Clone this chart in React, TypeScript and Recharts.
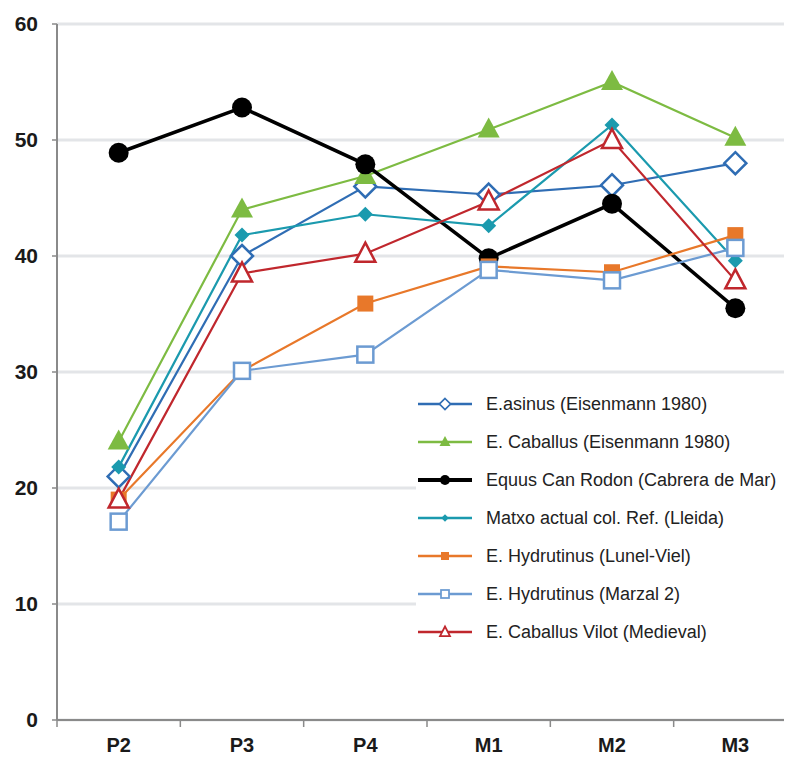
import React from 'react';
import { LineChart, Line, XAxis, YAxis, CartesianGrid } from 'recharts';

const categories = ['P2', 'P3', 'P4', 'M1', 'M2', 'M3'];
const yTicks = [0, 10, 20, 30, 40, 50, 60];

const asinus = [21, 40, 46, 45.3, 46.1, 48];
const caballus = [24, 44, 46.9, 50.9, 55, 50.2];
const canRodon = [48.9, 52.8, 47.9, 39.8, 44.5, 35.5];
const matxo = [21.8, 41.8, 43.6, 42.6, 51.3, 39.6];
const lunelViel = [19, 30.1, 35.9, 39.1, 38.6, 41.8];
const marzal = [17.1, 30.1, 31.5, 38.8, 37.9, 40.7];
const vilot = [19, 38.5, 40.2, 44.7, 50, 37.9];

type Shape = 'diamondOpen' | 'triangle' | 'circle' | 'diamond' | 'square' | 'squareOpen' | 'triangleOpen';

interface SeriesDef {
  key: string;
  name: string;
  values: number[];
  color: string;
  width: number;
  shape: Shape;
}

const series: SeriesDef[] = [
  { key: 'asinus', name: 'E.asinus (Eisenmann 1980)', values: asinus, color: '#2f6db4', width: 2.2, shape: 'diamondOpen' },
  { key: 'caballus', name: 'E. Caballus (Eisenmann 1980)', values: caballus, color: '#7dbb42', width: 2.2, shape: 'triangle' },
  { key: 'canRodon', name: 'Equus Can Rodon (Cabrera de Mar)', values: canRodon, color: '#000000', width: 3.5, shape: 'circle' },
  { key: 'matxo', name: 'Matxo actual col. Ref. (Lleida)', values: matxo, color: '#1b9aae', width: 2.2, shape: 'diamond' },
  { key: 'lunel', name: 'E. Hydrutinus (Lunel-Viel)', values: lunelViel, color: '#e8782a', width: 2.2, shape: 'square' },
  { key: 'marzal', name: 'E. Hydrutinus (Marzal 2)', values: marzal, color: '#6c9bd2', width: 2.2, shape: 'squareOpen' },
  { key: 'vilot', name: 'E. Caballus Vilot (Medieval)', values: vilot, color: '#c0272d', width: 2.2, shape: 'triangleOpen' },
];

const data = categories.map((c, i) => {
  const row: Record<string, number | string> = { cat: c };
  series.forEach((s) => { row[s.key] = s.values[i]; });
  return row;
});

const Marker = ({ shape, cx, cy, color, scale = 1 }: { shape: Shape; cx: number; cy: number; color: string; scale?: number }) => {
  const s = scale;
  const sw = 2.5 * Math.max(s, 0.7);
  switch (shape) {
    case 'diamondOpen': {
      const h = 11 * s;
      return <polygon points={`${cx},${cy - h} ${cx + h},${cy} ${cx},${cy + h} ${cx - h},${cy}`} fill="#fff" stroke={color} strokeWidth={sw} />;
    }
    case 'triangle': {
      const w = 11 * s;
      return <polygon points={`${cx},${cy - 12 * s} ${cx + w},${cy + 8 * s} ${cx - w},${cy + 8 * s}`} fill={color} />;
    }
    case 'circle':
      return <circle cx={cx} cy={cy} r={10 * s} fill={color} />;
    case 'diamond': {
      const h = 7.5 * s;
      return <polygon points={`${cx},${cy - h} ${cx + h},${cy} ${cx},${cy + h} ${cx - h},${cy}`} fill={color} />;
    }
    case 'square': {
      const h = 8 * s;
      return <rect x={cx - h} y={cy - h} width={2 * h} height={2 * h} fill={color} />;
    }
    case 'squareOpen': {
      const h = 8 * s;
      return <rect x={cx - h} y={cy - h} width={2 * h} height={2 * h} fill="#fff" stroke={color} strokeWidth={sw} />;
    }
    case 'triangleOpen': {
      const w = 10 * s;
      return <polygon points={`${cx},${cy - 11 * s} ${cx + w},${cy + 8 * s} ${cx - w},${cy + 8 * s}`} fill="#fff" stroke={color} strokeWidth={sw} />;
    }
  }
  return null;
};

const LegendBox = () => (
  <div style={{ position: 'absolute', left: 416, top: 385, width: 376, background: '#fff' }}>
    {series.map((s) => (
      <div key={s.key} style={{ display: 'flex', alignItems: 'center', height: 38 }}>
        <svg width={58} height={22} style={{ flex: 'none' }}>
          <line x1={2} y1={11} x2={56} y2={11} stroke={s.color} strokeWidth={s.width + 0.5} />
          <Marker shape={s.shape} cx={29} cy={11} color={s.color} scale={0.5} />
        </svg>
        <span style={{ marginLeft: 12, fontSize: 18, color: '#222', fontFamily: '"Liberation Sans", Arial, sans-serif', whiteSpace: 'nowrap' }}>
          {s.name}
        </span>
      </div>
    ))}
  </div>
);

const tickFont = { fontFamily: '"Liberation Sans Narrow", "Liberation Sans", Arial, sans-serif', fontWeight: 700, fill: '#1a1a1a' };

// category label plus a small tick mark at the band boundaries
const CatTick = (props: any) => {
  const { x, y, payload, index } = props;
  const off = payload && typeof payload.offset === 'number' ? payload.offset : 0;
  const axisY = y - 18;
  const last = index === categories.length - 1;
  return (
    <g>
      {off > 0 && <line x1={x - off} y1={axisY} x2={x - off} y2={axisY + 7} stroke="#8a8a8a" strokeWidth={1.5} />}
      {off > 0 && last && <line x1={x + off} y1={axisY} x2={x + off} y2={axisY + 7} stroke="#8a8a8a" strokeWidth={1.5} />}
      <text x={x} y={y} dy="0.71em" textAnchor="middle" fontSize={20} {...tickFont}>
        {payload.value}
      </text>
    </g>
  );
};

export default function App() {
  return (
    <div style={{ position: 'relative', margin: '-8px 0 0 -8px', width: 792, height: 767, background: '#fff' }}>
      <LineChart width={792} height={767} data={data} margin={{ top: 24, right: -5, left: 0, bottom: 0 }}>
        <CartesianGrid horizontal vertical={false} stroke="#e3e5e8" strokeWidth={3} />
        <XAxis
          dataKey="cat"
          scale="band"
          height={47}
          tickLine={false}
          tickSize={0}
          tickMargin={18}
          axisLine={{ stroke: '#8a8a8a', strokeWidth: 2 }}
          tick={CatTick}
          interval={0}
        />
        <YAxis
          width={57}
          domain={[0, 60]}
          ticks={yTicks}
          tickSize={5}
          tickMargin={14}
          axisLine={{ stroke: '#8a8a8a', strokeWidth: 2 }}
          tickLine={{ stroke: '#8a8a8a', strokeWidth: 1.5 }}
          tick={{ ...tickFont, fontFamily: '"Liberation Sans", Arial, sans-serif', fontSize: 21 }}
        />
        {series.map((s) => (
          <Line
            key={s.key}
            type="linear"
            dataKey={s.key}
            name={s.name}
            stroke={s.color}
            strokeWidth={s.width}
            isAnimationActive={false}
            activeDot={false}
            dot={(p: any) => <Marker key={`${s.key}-${p.index}`} shape={s.shape} cx={p.cx} cy={p.cy} color={s.color} />}
          />
        ))}
      </LineChart>
      <LegendBox />
    </div>
  );
}
